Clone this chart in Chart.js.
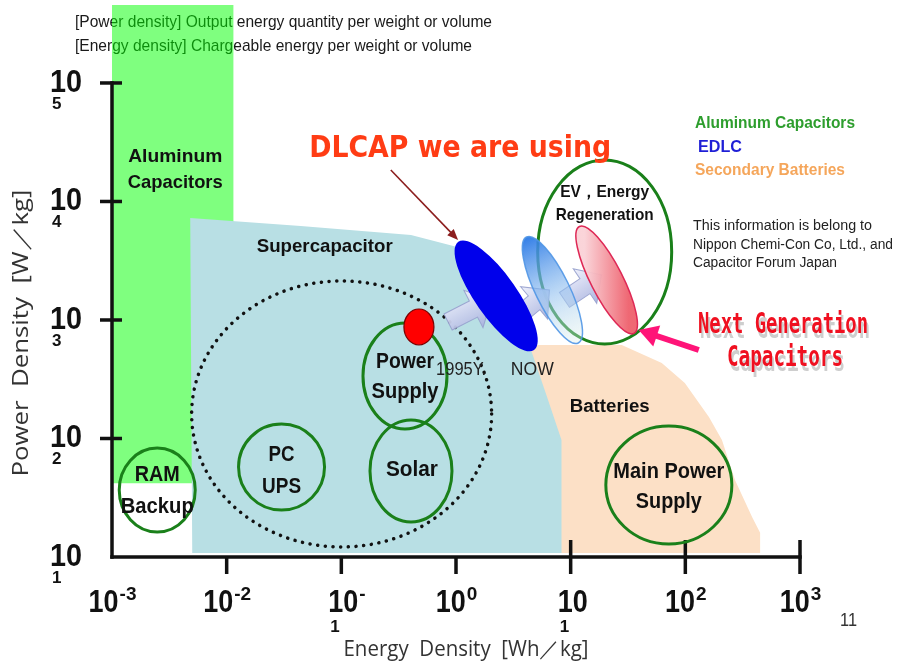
<!DOCTYPE html>
<html>
<head>
<meta charset="utf-8">
<title>Ragone chart</title>
<script src="https://cdn.jsdelivr.net/npm/chart.js@4.4.1/dist/chart.umd.min.js"></script>
<style>
  body { margin: 0; background: #fff; }
  canvas { display: block; }
</style>
</head>
<body>
<canvas id="ragone" width="897" height="668"></canvas>
<script>
// axis ticks
var xTicks = [0.001, 0.01, 0.1, 1, 10, 100, 1000];
var xTickSup = ['-3', '-2', '-', '0', '', '2', '3'];
var xTickSub = ['', '', '1', '', '1', '', ''];
var yTicks = [10, 100, 1000, 10000, 100000];
var yTickSub = ['1', '2', '3', '4', '5'];

// regions, energy density [Wh/kg] vs power density [W/kg]
var aluminumX = [0.001, 0.01145, 0.01145, 0.001, 0.001];
var aluminumY = [42, 42, 455000, 455000, 42];
var superCapX = [0.00501, 0.00481, 0.0442, 0.405, 1.108, 2.48, 4.36, 6.14, 8.32, 8.32, 0.00501];
var superCapY = [10.8, 7260, 6210, 5210, 4050, 1475, 615, 233, 97, 10.8, 10.8];
var batteryX = [3.72, 27.9, 62.3, 99, 160.6, 208.6, 271, 382, 449, 449, 3.72, 3.72];
var batteryY = [615, 615, 434, 294, 152, 97, 44.7, 21.8, 16, 10.8, 10.8, 615];

// applications (green circles)
var appX = [0.00248, 0.0301, 0.359, 0.405, 71.8, 19.8];
var appY = [36.7, 57.4, 337, 53.2, 40.5, 3750];
var appLines = [['RAM', 'Backup'], ['PC', 'UPS'], ['Power', 'Supply'], ['Solar'], ['Main Power', 'Supply'], ['EV，Energy', 'Regeneration']];
var appLabelX = [0.00248, 0.0301, 0.359, 0.413, 71.8, 19.8];
var appLabelY = [36.1, 53.2, 330, 54.2, 39.0, 9530];

// dotted usage area
var usageX = [0.1006];
var usageY = [161];

// capacitor generations (EDLC 1995 / now / next) and the red dot
var genX = [2.24, 6.93, 20.6];
var genY = [1596, 1791, 2178];
var dotX = [0.475];
var dotY = [873];

// progress arrows between generations
var stepFromX = [0.853, 3.03, 8.83];
var stepFromY = [962, 962, 1476];
var stepToX = [2.03, 6.53, 18.6];
var stepToY = [1476, 1791, 2400];

// pointer arrows: DLCAP text -> EDLC, next gen text -> red ellipse
var pointerFromX = [0.270, 131];
var pointerFromY = [18450, 558];
var pointerToX = [1.043, 39.2];
var pointerToY = [4730, 824];

// notes inside the plot
var noteText = ['Aluminum', 'Capacitors', 'Supercapacitor', 'Batteries', 'DLCAP we are using', '1995Y.', 'NOW'];
var noteX = [0.00356, 0.00356, 0.0716, 21.9, 1.087, 1.108, 4.63];
var noteY = [23740, 14320, 4130, 184.6, 27730, 378, 378];

// ---- styles ----
var SANS = '"Liberation Sans", Arial, sans-serif';
var appRx = [38, 43, 42, 41, 63, 67];
var appRy = [42, 43, 53, 51, 59, 92];
var appGap = [32, 32, 30, 0, 30, 23];
var appWidths = [[45, 73], [26, 39], [58, 67], [52], [111, 66], [89, 98]];
var genA = [66, 59, 60], genB = [21, 17, 16], genAngle = [55, 64, 63];
var noteFont = ['bold 19px ' + SANS, 'bold 19px ' + SANS, 'bold 19px ' + SANS, 'bold 18px ' + SANS,
  'bold 31px "DejaVu Sans", sans-serif', '18px ' + SANS, '18px ' + SANS];
var noteColor = ['#111', '#111', '#111', '#111', '#ff3c14', '#222', '#222'];
var noteWidth = [94, 95, 136, 80, 302, 50, 43];

function pts(xs, ys) {
  var out = [];
  for (var i = 0; i < xs.length; i++) out.push({x: xs[i], y: ys[i]});
  return out;
}

function label(c, s, x, y, font, color, w, align) {
  c.save();
  c.font = font;
  c.fillStyle = color;
  c.textBaseline = 'middle';
  c.textAlign = align || 'center';
  c.translate(x, y);
  if (w) {
    var m = c.measureText(s).width;
    c.scale(w / m, 1);
  }
  c.fillText(s, 0, 0);
  c.restore();
}

function blockArrow(c, x1, y1, x2, y2) {
  var L = Math.hypot(x2 - x1, y2 - y1), a = Math.atan2(y2 - y1, x2 - x1);
  var w = 9, hw = 21, hl = 20;
  c.save();
  c.translate(x1, y1);
  c.rotate(a);
  var g = c.createLinearGradient(0, -hw, 0, hw);
  g.addColorStop(0, 'rgba(238,240,252,0.95)');
  g.addColorStop(1, 'rgba(168,178,222,0.95)');
  c.beginPath();
  c.moveTo(0, -w); c.lineTo(L - hl, -w); c.lineTo(L - hl, -hw); c.lineTo(L, 0);
  c.lineTo(L - hl, hw); c.lineTo(L - hl, w); c.lineTo(0, w);
  c.closePath();
  c.fillStyle = g;
  c.fill();
  c.strokeStyle = 'rgba(150,160,205,0.9)';
  c.lineWidth = 1;
  c.stroke();
  c.restore();
}

function lineArrow(c, x1, y1, x2, y2, color, lw, hl, hw) {
  var a = Math.atan2(y2 - y1, x2 - x1);
  c.save();
  c.strokeStyle = color;
  c.fillStyle = color;
  c.lineWidth = lw;
  c.beginPath();
  c.moveTo(x1, y1);
  c.lineTo(x2 - Math.cos(a) * hl * 0.8, y2 - Math.sin(a) * hl * 0.8);
  c.stroke();
  c.translate(x2, y2);
  c.rotate(a);
  c.beginPath();
  c.moveTo(0, 0); c.lineTo(-hl, -hw / 2); c.lineTo(-hl, hw / 2);
  c.closePath();
  c.fill();
  c.restore();
}

var drawing = {
  id: 'drawing',
  beforeDatasetsDraw: function(chart) {
    var c = chart.ctx;
    var f = '17px "Liberation Sans Narrow", ' + SANS;
    label(c, '[Power density] Output energy quantity per weight or volume', 75, 22, f, '#1a1a1a', 417, 'left');
    label(c, '[Energy density] Chargeable energy per weight or volume', 75, 46, f, '#1a1a1a', 397, 'left');
  },
  afterDatasetsDraw: function(chart) {
    var c = chart.ctx;
    var xs = chart.scales.x, ys = chart.scales.y;
    var X = function(v) { return xs.getPixelForValue(v); };
    var Y = function(v) { return ys.getPixelForValue(v); };
    var i;

    // axes
    var x0 = X(xTicks[0]), x1 = X(xTicks[xTicks.length - 1]);
    var y0 = Y(yTicks[0]), y1 = Y(yTicks[yTicks.length - 1]);
    c.save();
    c.fillStyle = '#111';
    c.fillRect(x0 - 1.75, y1 - 1.75, 3.5, y0 - y1 + 3.5);
    c.fillRect(x0 - 1.75, y0 - 1.75, x1 - x0 + 3.5, 3.5);
    for (i = 1; i < yTicks.length; i++) c.fillRect(x0 - 12, Y(yTicks[i]) - 1.75, 22, 3.5);
    for (i = 1; i < xTicks.length; i++) {
      var top = xTicks[i] >= 10 ? y0 - 17 : y0;
      c.fillRect(X(xTicks[i]) - 1.75, top, 3.5, y0 + 17 - top);
    }
    c.restore();

    // tick labels
    var fBig = 'bold 32px ' + SANS, fSup = 'bold 19px ' + SANS, fSub = 'bold 17px ' + SANS;
    for (i = 0; i < xTicks.length; i++) {
      var px = X(xTicks[i]);
      c.font = fSup;
      var ws = xTickSup[i] ? c.measureText(xTickSup[i]).width : 0;
      var left = xTickSub[i] ? px - 13 : px - (30 + ws) / 2;
      label(c, '10', left, 603, fBig, '#111', 30, 'left');
      if (xTickSup[i]) label(c, xTickSup[i], left + 31, 595, fSup, '#111', 0, 'left');
      if (xTickSub[i]) label(c, xTickSub[i], left + 2, 627, fSub, '#111', 0, 'left');
    }
    for (i = 0; i < yTicks.length; i++) {
      var py = Y(yTicks[i]);
      label(c, '10', 50, py, fBig, '#111', 32, 'left');
      label(c, yTickSub[i], 52, py + 21, fSub, '#111', 0, 'left');
    }

    // axis titles
    var fTitle = '21px "Open Sans", ' + SANS;
    label(c, 'Energy  Density  [Wh／kg]', 466, 650, fTitle, '#333', 245);
    c.save();
    c.translate(22, 333);
    c.rotate(-Math.PI / 2);
    label(c, 'Power  Density  [W／kg]', 0, 0, fTitle, '#333', 287);
    c.restore();

    // dotted usage area
    c.save();
    c.strokeStyle = '#111';
    c.lineWidth = 3.5;
    c.lineCap = 'round';
    c.setLineDash([0.1, 7.6]);
    c.beginPath();
    c.ellipse(X(usageX[0]), Y(usageY[0]), 150, 133, 0, 0, Math.PI * 2);
    c.stroke();
    c.restore();

    // application circles
    c.save();
    c.strokeStyle = 'rgb(26,128,26)';
    c.lineWidth = 3;
    for (i = 0; i < appX.length; i++) {
      c.beginPath();
      c.ellipse(X(appX[i]), Y(appY[i]), appRx[i], appRy[i], 0, 0, Math.PI * 2);
      c.stroke();
    }
    c.restore();

    // progress arrows
    for (i = 0; i < stepFromX.length; i++) {
      blockArrow(c, X(stepFromX[i]), Y(stepFromY[i]), X(stepToX[i]), Y(stepToY[i]));
    }

    // capacitor generations
    for (i = 0; i < genX.length; i++) {
      var cx = X(genX[i]), cy = Y(genY[i]);
      var rot = genAngle[i] * Math.PI / 180;
      var dx = Math.cos(rot) * genA[i], dy = Math.sin(rot) * genA[i];
      c.save();
      c.beginPath();
      c.ellipse(cx, cy, genA[i], genB[i], rot, 0, Math.PI * 2);
      if (i === 0) {
        c.fillStyle = 'rgb(0,0,235)';
        c.fill();
      } else if (i === 1) {
        var g1 = c.createLinearGradient(cx - dx, cy - dy, cx + dx, cy + dy);
        g1.addColorStop(0, 'rgba(40,120,230,0.95)');
        g1.addColorStop(0.55, 'rgba(150,195,240,0.6)');
        g1.addColorStop(1, 'rgba(225,242,235,0.35)');
        c.fillStyle = g1;
        c.fill();
        c.strokeStyle = 'rgba(80,150,230,0.9)';
        c.lineWidth = 1.5;
        c.stroke();
      } else {
        var g2 = c.createLinearGradient(cx - 22, cy, cx + 22, cy);
        g2.addColorStop(0, 'rgba(250,210,215,0.95)');
        g2.addColorStop(1, 'rgba(238,96,108,0.95)');
        c.fillStyle = g2;
        c.fill();
        c.strokeStyle = 'rgb(222,40,85)';
        c.lineWidth = 1.5;
        c.stroke();
      }
      c.restore();
    }

    // red dot
    c.save();
    c.beginPath();
    c.ellipse(X(dotX[0]), Y(dotY[0]), 15, 18, 0, 0, Math.PI * 2);
    c.fillStyle = '#ff0000';
    c.fill();
    c.strokeStyle = '#7a0000';
    c.lineWidth = 1.2;
    c.stroke();
    c.restore();

    // pointers
    lineArrow(c, X(pointerFromX[0]), Y(pointerFromY[0]), X(pointerToX[0]), Y(pointerToY[0]), 'rgb(140,30,30)', 1.6, 11, 9);
    lineArrow(c, X(pointerFromX[1]), Y(pointerFromY[1]), X(pointerToX[1]), Y(pointerToY[1]), 'rgb(255,20,120)', 6, 19, 22);

    // notes
    for (i = 0; i < noteText.length; i++) {
      label(c, noteText[i], X(noteX[i]), Y(noteY[i]), noteFont[i], noteColor[i], noteWidth[i]);
    }
    for (i = 0; i < appLines.length; i++) {
      var n = appLines[i].length;
      var fApp = (i === 5 ? 'bold 17px ' : 'bold 22px ') + SANS;
      for (var k = 0; k < n; k++) {
        var ly = Y(appLabelY[i]) + (k - (n - 1) / 2) * appGap[i];
        label(c, appLines[i][k], X(appLabelX[i]), ly, fApp, '#111', appWidths[i][k]);
      }
    }

    // legend and notes outside the plot
    var fLeg = 'bold 17px ' + SANS;
    label(c, 'Aluminum Capacitors', 695, 123, fLeg, '#2e9e2e', 160, 'left');
    label(c, 'EDLC', 698, 147, fLeg, '#1f1fd6', 44, 'left');
    label(c, 'Secondary Batteries', 695, 170, fLeg, '#f5a65b', 150, 'left');
    var fInfo = '14px ' + SANS;
    label(c, 'This information is belong to', 693, 226, fInfo, '#222', 179, 'left');
    label(c, 'Nippon Chemi-Con Co, Ltd., and', 693, 245, fInfo, '#222', 200, 'left');
    label(c, 'Capacitor Forum Japan', 693, 263, fInfo, '#222', 144, 'left');

    var fMono = 'bold 29px "DejaVu Sans Mono", monospace';
    label(c, 'Next Generation', 785, 330, fMono, 'rgba(185,185,185,0.7)', 170);
    label(c, 'Capacitors', 787, 363, fMono, 'rgba(185,185,185,0.7)', 116);
    label(c, 'Next Generation', 783, 325, fMono, '#f01020', 170);
    label(c, 'Capacitors', 785, 358, fMono, '#f01020', 116);

    label(c, '11', 840, 621, '18px "Liberation Sans Narrow", ' + SANS, '#333', 17, 'left');
  }
};

var ctx = document.getElementById('ragone').getContext('2d');

var chart = new Chart(ctx, {
  type: 'scatter',
  data: {
    datasets: [{
      label: 'Aluminum Capacitors',
      data: pts(aluminumX, aluminumY),
      showLine: true,
      fill: 'shape',
      backgroundColor: 'rgba(0,255,0,0.5)',
      borderWidth: 0,
      pointRadius: 0,
      order: 3
    }, {
      label: 'Batteries',
      data: pts(batteryX, batteryY),
      showLine: true,
      fill: 'shape',
      backgroundColor: 'rgb(252,224,198)',
      borderWidth: 0,
      pointRadius: 0,
      order: 2
    }, {
      label: 'Supercapacitor',
      data: pts(superCapX, superCapY),
      showLine: true,
      fill: 'shape',
      backgroundColor: 'rgb(184,223,228)',
      borderWidth: 0,
      pointRadius: 0,
      order: 1
    }]
  },
  options: {
    responsive: false,
    animation: false,
    events: [],
    layout: { padding: { left: 112, right: 97, top: 5, bottom: 111 } },
    scales: {
      x: { type: 'logarithmic', min: 0.001, max: 1000, display: false },
      y: { type: 'logarithmic', min: 10, max: 455000, display: false }
    },
    plugins: {
      legend: { display: false },
      tooltip: { enabled: false }
    }
  },
  plugins: [drawing]
});
</script>
</body>
</html>
